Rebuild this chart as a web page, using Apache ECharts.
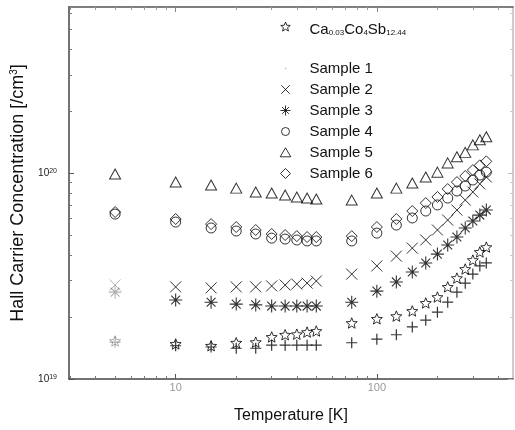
<!DOCTYPE html>
<html><head><meta charset="utf-8">
<script src="https://cdn.jsdelivr.net/npm/echarts@6/dist/echarts.min.js"></script>
<style>html,body{margin:0;padding:0;background:#fff}#c{width:515px;height:430px}</style>
</head><body><div id="c"></div>
<script>
// ---- data (temperature in K, carrier concentration in cm^-3) ----
const temperatures = [5,10,15,20,25,30,35,40,45,50,75,100,125,150,175,200,225,250,275,300,325,350];
const caCoSb   = [1.53e19,1.48e19,1.45e19,1.50e19,1.51e19,1.60e19,1.64e19,1.65e19,1.69e19,1.71e19,1.87e19,1.96e19,2.02e19,2.14e19,2.34e19,2.50e19,2.80e19,3.09e19,3.42e19,3.78e19,4.14e19,4.37e19];
const sample1  = [1.51e19,1.45e19,1.43e19,1.41e19,1.41e19,1.46e19,1.46e19,1.46e19,1.46e19,1.46e19,1.50e19,1.56e19,1.64e19,1.79e19,1.93e19,2.11e19,2.36e19,2.64e19,2.92e19,3.23e19,3.54e19,3.66e19];
const sample2  = [2.86e19,2.80e19,2.77e19,2.80e19,2.80e19,2.83e19,2.86e19,2.89e19,2.92e19,2.99e19,3.23e19,3.54e19,3.95e19,4.32e19,4.73e19,5.29e19,5.91e19,6.61e19,7.39e19,8.09e19,8.85e19,9.57e19];
const sample3  = [2.64e19,2.42e19,2.36e19,2.31e19,2.29e19,2.26e19,2.26e19,2.26e19,2.26e19,2.26e19,2.36e19,2.67e19,2.96e19,3.31e19,3.66e19,4.04e19,4.47e19,4.89e19,5.41e19,5.85e19,6.25e19,6.61e19];
const sample4  = [6.32e19,5.78e19,5.41e19,5.23e19,5.06e19,4.83e19,4.78e19,4.73e19,4.68e19,4.68e19,4.68e19,5.11e19,5.59e19,6.05e19,6.54e19,7.00e19,7.56e19,8.18e19,8.65e19,9.25e19,9.78e19,1.01e20];
const sample5  = [9.89e19,9.04e19,8.74e19,8.45e19,8.09e19,8.00e19,7.82e19,7.65e19,7.56e19,7.48e19,7.39e19,8.00e19,8.45e19,8.94e19,9.57e19,1.01e20,1.12e20,1.20e20,1.26e20,1.37e20,1.45e20,1.50e20];
const sample6  = [6.47e19,5.98e19,5.65e19,5.47e19,5.29e19,5.06e19,5.00e19,4.94e19,4.89e19,4.89e19,4.94e19,5.47e19,5.98e19,6.54e19,7.15e19,7.65e19,8.36e19,9.04e19,9.67e19,1.034e20,1.09e20,1.14e20];
const caName = 'Ca0.03Co4Sb12.44';
const sampleNames = ['Sample 1','Sample 2','Sample 3','Sample 4','Sample 5','Sample 6'];
const xMajorTicks = [10, 100];
const xMinorTicks = [3,4,5,6,7,8,9,20,30,40,50,60,70,80,90,200,300,400];
const yMajorTicks = [1e19, 1e20];
const yMinorTicks = [2e19,3e19,4e19,5e19,6e19,7e19,8e19,9e19,2e20,3e20,4e20,5e20,6e20];
const XMIN = 2.95, XMAX = 475, YMIN = 1e19, YMAX = 6.4e20;

// ---- symbols ----
function starPts(cx, cy, R, r) {
  const p = [];
  for (let i = 0; i < 10; i++) {
    const rad = i % 2 ? r : R, a = -Math.PI / 2 + i * Math.PI / 5;
    p.push((cx + rad * Math.cos(a)).toFixed(2) + ' ' + (cy + rad * Math.sin(a)).toFixed(2));
  }
  return 'M' + p.join(' L') + ' Z';
}
const SYM = {
  star: 'path://' + starPts(10, 10, 10, 4.4),
  plus: 'path://M0 5L10 5M5 0L5 10',
  cross: 'path://M0 0L10 10M10 0L0 10',
  aster: 'path://M0 5L10 5M5 0L5 10M1.6 1.6L8.4 8.4M8.4 1.6L1.6 8.4'
};
const BOX = 'M0 0M30 14';
const LEG = {
  star: 'path://M0 0M30 20' + starPts(11, 7.5, 5, 2.2),
  dot: 'path://' + BOX + 'M10.2 6.2L11.8 6.2L11.8 7.8L10.2 7.8Z',
  cross: 'path://' + BOX + 'M6.8 2.8L15.2 11.2M15.2 2.8L6.8 11.2',
  aster: 'path://' + BOX + 'M6 7L16 7M11 2L11 12M7.6 3.6L14.4 10.4M14.4 3.6L7.6 10.4',
  circle: 'path://' + BOX + 'M15 7A4 4 0 1 1 7 7A4 4 0 1 1 15 7Z',
  triangle: 'path://' + BOX + 'M11 2.3L16.3 11.3L5.7 11.3Z',
  diamond: 'path://' + BOX + 'M11 2L16 7L11 12L6 7Z'
};

function buildData(vals, faintFirst) {
  return temperatures.map((t, i) => (faintFirst && i === 0)
    ? { value: [t, vals[i]], itemStyle: { opacity: 0.3 } }
    : [t, vals[i]]);
}
function scatter(name, vals, symbol, size, faint, lw) {
  return {
    type: 'scatter', name, data: buildData(vals, faint), symbol, symbolSize: size,
    symbolKeepAspect: symbol === SYM.star,
    itemStyle: { color: 'transparent', borderColor: '#000', borderWidth: lw || 1 },
    emphasis: { disabled: true }, z: 3
  };
}

const FONT = 'Liberation Sans, Arial, sans-serif';
const axisBase = (extra) => Object.assign({
  type: 'log', logBase: 10, splitLine: { show: false }, minorTick: { show: false },
  axisLabel: { show: false }, axisLine: { show: false, onZero: false }
}, extra);

const xAxes = [
  axisBase({ min: XMIN, max: XMAX, position: 'bottom',
    name: 'Temperature [K]', nameLocation: 'middle', nameGap: 29,
    nameTextStyle: { fontSize: 16, color: '#111', fontFamily: FONT },
    axisLine: { show: true, onZero: false, lineStyle: { color: '#444', width: 1.5 } },
    axisTick: { show: true, inside: true, length: 5, customValues: xMajorTicks, lineStyle: { color: '#555' } },
    axisLabel: { show: true, customValues: xMajorTicks, formatter: v => String(Math.round(v)), color: '#999', fontSize: 11, margin: 3, fontFamily: FONT } }),
  axisBase({ min: XMIN, max: XMAX, position: 'bottom',
    axisTick: { show: true, inside: true, length: 3, customValues: xMinorTicks, lineStyle: { color: '#777' } } }),
  axisBase({ min: XMIN, max: XMAX, position: 'top',
    axisLine: { show: true, onZero: false, lineStyle: { color: '#555', width: 1.5 } },
    axisTick: { show: true, inside: true, length: 5, customValues: xMajorTicks, lineStyle: { color: '#888' } } }),
  axisBase({ min: XMIN, max: XMAX, position: 'top',
    axisTick: { show: true, inside: true, length: 3, customValues: xMinorTicks, lineStyle: { color: '#999' } } })
];
const yAxes = [
  axisBase({ min: YMIN, max: YMAX, position: 'left',
    name: 'Hall Carrier Concentration [/cm{sup|3}]', nameLocation: 'middle', nameGap: 39,
    nameTextStyle: { fontSize: 18, color: '#111', fontFamily: FONT,
      rich: { sup: { fontSize: 10, verticalAlign: 'top', lineHeight: 10, fontFamily: FONT, color: '#111' } } },
    axisLine: { show: true, onZero: false, lineStyle: { color: '#444', width: 1.5 } },
    axisTick: { show: true, inside: true, length: 5, customValues: yMajorTicks, lineStyle: { color: '#555' } },
    axisLabel: { show: true, customValues: yMajorTicks, margin: 12,
      formatter: v => '{b|10}{e|' + Math.round(Math.log10(v)) + '}',
      rich: {
        b: { fontSize: 10, lineHeight: 10, padding: [4, 0, 0, 0], verticalAlign: 'bottom', color: '#222', fontFamily: FONT },
        e: { fontSize: 7, lineHeight: 7, verticalAlign: 'top', color: '#222', fontFamily: FONT }
      } } }),
  axisBase({ min: YMIN, max: YMAX, position: 'left',
    axisTick: { show: true, inside: true, length: 3, customValues: yMinorTicks, lineStyle: { color: '#777' } } }),
  axisBase({ min: YMIN, max: YMAX, position: 'right',
    axisLine: { show: true, onZero: false, lineStyle: { color: '#bbb', width: 1.5 } },
    axisTick: { show: true, inside: true, length: 5, customValues: yMajorTicks, lineStyle: { color: '#bbb' } } }),
  axisBase({ min: YMIN, max: YMAX, position: 'right',
    axisTick: { show: true, inside: true, length: 3, customValues: yMinorTicks, lineStyle: { color: '#ccc' } } })
];

const legendStyle = { color: 'transparent', borderColor: '#000', borderWidth: 1 };
const option = {
  animation: false,
  backgroundColor: '#fff',
  grid: { left: 69, right: 2, top: 7, bottom: 51 },
  xAxis: xAxes,
  yAxis: yAxes,
  legend: [
    { orient: 'vertical', left: 274, top: 19, padding: 0, itemWidth: 30, itemHeight: 20, itemGap: 0,
      selectedMode: false, itemStyle: legendStyle,
      data: [{ name: caName, icon: LEG.star }],
      formatter: () => '{n|Ca}{s|0.03}{n|Co}{s|4}{n|Sb}{s|12.44}',
      textStyle: { rich: {
        n: { fontSize: 15, lineHeight: 15, verticalAlign: 'top', color: '#111', fontFamily: FONT },
        s: { fontSize: 8, lineHeight: 8, verticalAlign: 'bottom', color: '#111', fontFamily: FONT }
      } } },
    { orient: 'vertical', left: 274, top: 61, padding: 0, itemWidth: 30, itemHeight: 14, itemGap: 6,
      selectedMode: false, itemStyle: legendStyle,
      textStyle: { fontSize: 15, lineHeight: 14, color: '#111', fontFamily: FONT },
      data: [
        { name: sampleNames[0], icon: LEG.dot, itemStyle: { color: '#bbb', borderWidth: 0 } },
        { name: sampleNames[1], icon: LEG.cross },
        { name: sampleNames[2], icon: LEG.aster },
        { name: sampleNames[3], icon: LEG.circle },
        { name: sampleNames[4], icon: LEG.triangle },
        { name: sampleNames[5], icon: LEG.diamond }
      ] }
  ],
  series: [
    scatter(caName, caCoSb, SYM.star, 11, true),
    scatter(sampleNames[0], sample1, SYM.plus, 11, true, 1.2),
    scatter(sampleNames[1], sample2, SYM.cross, 11, true),
    scatter(sampleNames[2], sample3, SYM.aster, 13, true, 1.1),
    scatter(sampleNames[3], sample4, 'circle', 10, false),
    scatter(sampleNames[4], sample5, 'triangle', [11, 10], false),
    scatter(sampleNames[5], sample6, 'diamond', 11, false)
  ]
};
const chart = echarts.init(document.getElementById('c'), null, { renderer: 'canvas' });
chart.setOption(option);
</script></body></html>
